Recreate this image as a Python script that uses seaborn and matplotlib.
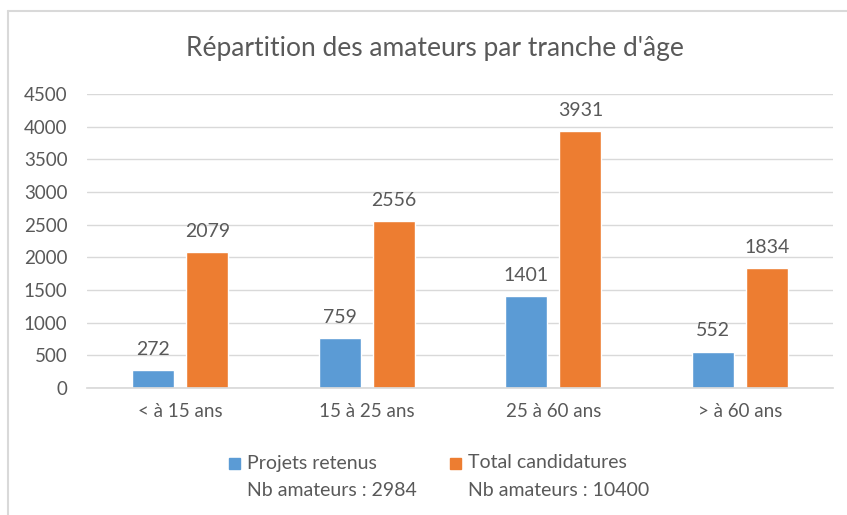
import pandas as pd
import seaborn as sns
import matplotlib.pyplot as plt
from matplotlib.lines import Line2D

# Data
tranches = ["< à 15 ans", "15 à 25 ans", "25 à 60 ans", "> à 60 ans"]
projets_retenus = [272, 759, 1401, 552]
total_candidatures = [2079, 2556, 3931, 1834]
series = ["Projets retenus", "Total candidatures"]
y_ticks = [0, 500, 1000, 1500, 2000, 2500, 3000, 3500, 4000, 4500]

df = pd.DataFrame({
    "tranche": tranches * 2,
    "serie": [series[0]] * 4 + [series[1]] * 4,
    "valeur": projets_retenus + total_candidatures,
})

sns.set_theme(style="white")
plt.rcParams["font.family"] = ["Lato", "DejaVu Sans"]

grey_txt = "#595959"
grid_col = "#D9D9D9"
colors = {"Projets retenus": "#5B9BD5", "Total candidatures": "#ED7D31"}

fig = plt.figure(figsize=(8.47, 5.15), dpi=100)
ax = fig.add_axes([0.1027, 0.2466, 0.8808, 0.5709])

sns.barplot(data=df, x="tranche", y="valeur", hue="serie", order=tranches,
            hue_order=series, palette=colors, width=0.579, gap=0.222,
            saturation=1, errorbar=None, legend=False, ax=ax)

for c in ax.containers:
    ax.bar_label(c, padding=9, fontsize=14, color=grey_txt)

ax.set_ylim(0, 4500)
ax.set_yticks(y_ticks)
ax.yaxis.grid(True, color=grid_col, linewidth=1)
ax.set_axisbelow(True)
for s in ["top", "right", "left"]:
    ax.spines[s].set_visible(False)
ax.spines["bottom"].set_color(grid_col)
ax.tick_params(axis="both", length=0, labelsize=13.5, colors=grey_txt)
ax.tick_params(axis="x", pad=11)
ax.tick_params(axis="y", pad=14)
ax.set_xlabel("")
ax.set_ylabel("")

fig.text(0.514, 0.905, "Répartition des amateurs par tranche d'âge",
         ha="center", va="center", fontsize=19, color=grey_txt)

# legend (square + two-line label, square aligned with first line)
leg_items = [
    (series[0], f"Nb amateurs : {sum(projets_retenus)}", 229),
    (series[1], f"Nb amateurs : {sum(total_candidatures)}", 450),
]
W, H = 847, 515
for name, sub, x0 in leg_items:
    fig.patches.append(plt.Rectangle((x0 / W, 1 - 469 / H), 11 / W, 11 / H,
                                     transform=fig.transFigure,
                                     color=colors[name]))
    fig.text((x0 + 18) / W, 1 - 463 / H, name, ha="left", va="center",
             fontsize=14, color=grey_txt)
    fig.text((x0 + 18) / W, 1 - 490 / H, sub, ha="left", va="center",
             fontsize=14, color=grey_txt)

# chart frame (top and left edges visible)
fig.add_artist(Line2D([8 / W, 1], [1 - 11 / H, 1 - 11 / H],
                      transform=fig.transFigure, color=grid_col, linewidth=1.5))
fig.add_artist(Line2D([8 / W, 8 / W], [0, 1 - 11 / H],
                      transform=fig.transFigure, color=grid_col, linewidth=1.5))

fig.savefig("out.png", dpi=100)
